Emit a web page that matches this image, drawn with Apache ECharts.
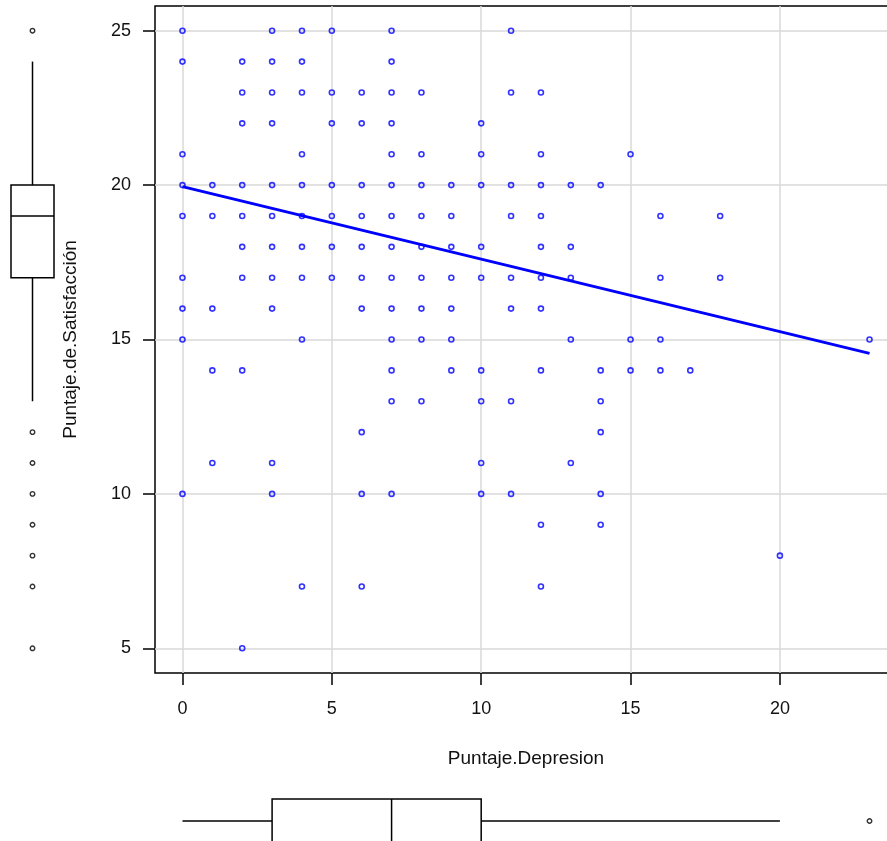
<!DOCTYPE html>
<html>
<head>
<meta charset="utf-8">
<title>Puntaje.de.Satisfacción vs Puntaje.Depresion</title>
<script src="https://cdn.jsdelivr.net/npm/echarts@6/dist/echarts.min.js"></script>
<style>
  html, body { margin: 0; padding: 0; background: #fff; }
  #chart { width: 887px; height: 841px; }
</style>
</head>
<body>
<div id="chart"></div>
<script>
// satisfaction levels and the depression scores seen at each level
const satLevels = [25, 24, 23, 22, 21, 20, 19, 18, 17, 16, 15, 14, 13, 12, 11, 10, 9, 8, 7, 5]
const depByLevel = [
  [0, 3, 4, 5, 7, 11],
  [0, 2, 3, 4, 7],
  [2, 3, 4, 5, 6, 7, 8, 11, 12],
  [2, 3, 5, 6, 7, 10],
  [0, 4, 7, 8, 10, 12, 15],
  [0, 1, 2, 3, 4, 5, 6, 7, 8, 9, 10, 11, 12, 13, 14],
  [0, 1, 2, 3, 4, 5, 6, 7, 8, 9, 11, 12, 16, 18],
  [2, 3, 4, 5, 6, 7, 8, 9, 10, 12, 13],
  [0, 2, 3, 4, 5, 6, 7, 8, 9, 10, 11, 12, 13, 16, 18],
  [0, 1, 3, 6, 7, 8, 9, 11, 12],
  [0, 4, 7, 8, 9, 13, 15, 16, 23],
  [1, 2, 7, 9, 10, 12, 14, 15, 16, 17],
  [7, 8, 10, 11, 14],
  [6, 14],
  [1, 3, 10, 13],
  [0, 3, 6, 7, 10, 11, 14],
  [12, 14],
  [20],
  [4, 6, 12],
  [2]
]

// fitted line
const fitX = [0, 23]
const fitY = [19.95, 14.55]

// marginal boxplots: [min, q1, median, q3, max]
const satBox = [13, 17, 19, 20, 24]
const satOutliers = [25, 12, 11, 10, 9, 8, 7, 5]
const depBox = [0, 3, 7, 10, 20]
const depOutliers = [23]

const xTicks = [0, 5, 10, 15, 20]
const yTicks = [5, 10, 15, 20, 25]

const points = []
satLevels.forEach((s, i) => {
  depByLevel[i].forEach(d => points.push([d, s]))
})

const font = 'Liberation Sans, Arial, sans-serif'
const xRange = { min: -0.92, max: 23.92 }
const yRange = { min: 4.2, max: 25.8 }

const renderBox = (vertical) => (params, api) => {
  const v = [0, 1, 2, 3, 4].map(i => api.value(i))
  const p = v.map(val => vertical ? api.coord([0, val]) : api.coord([val, 0]))
  const half = vertical ? api.size([2, 0])[0] / 2 : api.size([0, 2])[1] / 2
  const style = { stroke: '#000', lineWidth: 1.5, fill: null }
  const line = (x1, y1, x2, y2) => ({ type: 'line', shape: { x1, y1, x2, y2 }, style })
  let children
  if (vertical) {
    const cx = p[0][0]
    children = [
      line(cx, p[0][1], cx, p[1][1]),
      line(cx, p[3][1], cx, p[4][1]),
      { type: 'rect', shape: { x: cx - half, y: p[3][1], width: 2 * half, height: p[1][1] - p[3][1] }, style },
      line(cx - half, p[2][1], cx + half, p[2][1])
    ]
  } else {
    const cy = p[0][1]
    children = [
      line(p[0][0], cy, p[1][0], cy),
      line(p[3][0], cy, p[4][0], cy),
      { type: 'rect', shape: { x: p[1][0], y: cy - half, width: p[3][0] - p[1][0], height: 2 * half }, style },
      line(p[2][0], cy - half, p[2][0], cy + half)
    ]
  }
  return { type: 'group', children }
}

const chart = echarts.init(document.getElementById('chart'))

const option = {
  backgroundColor: '#fff',
  animation: false,
  grid: [
    { left: 155, top: 6, width: 742, height: 667, outerBoundsMode: 'none', containLabel: false, show: true, borderColor: '#000', borderWidth: 1.5, backgroundColor: 'transparent' },
    { left: 11, top: 6, width: 43, height: 667, outerBoundsMode: 'none', containLabel: false },
    { left: 155, top: 799, width: 742, height: 44, outerBoundsMode: 'none', containLabel: false }
  ],
  xAxis: [
    {
      gridIndex: 0,
      type: 'value',
      ...xRange,
      name: 'Puntaje.Depresion',
      nameLocation: 'middle',
      nameGap: 76,
      nameTextStyle: { color: '#111', fontSize: 19, fontFamily: font },
      axisLine: { show: false, onZero: false },
      axisTick: { show: true, customValues: xTicks, length: 12, lineStyle: { color: '#000', width: 1.5 } },
      axisLabel: { customValues: xTicks, color: '#111', fontSize: 18, fontFamily: font, margin: 27 },
      splitLine: { show: true, lineStyle: { color: '#d9d9d9', width: 1.5 } }
    },
    { gridIndex: 1, type: 'value', min: -1, max: 1, show: false },
    { gridIndex: 2, type: 'value', ...xRange, show: false }
  ],
  yAxis: [
    {
      gridIndex: 0,
      type: 'value',
      ...yRange,
      name: 'Puntaje.de.Satisfacción',
      nameLocation: 'middle',
      nameRotate: 90,
      nameGap: 75,
      nameTextStyle: { color: '#111', fontSize: 19, fontFamily: font },
      axisLine: { show: false, onZero: false },
      axisTick: { show: true, customValues: yTicks, length: 12, lineStyle: { color: '#000', width: 1.5 } },
      axisLabel: { customValues: yTicks, color: '#111', fontSize: 18, fontFamily: font, margin: 24 },
      splitLine: { show: true, lineStyle: { color: '#d9d9d9', width: 1.5 } }
    },
    { gridIndex: 1, type: 'value', ...yRange, show: false },
    { gridIndex: 2, type: 'value', min: -1, max: 1, show: false }
  ],
  series: [
    {
      name: 'puntos',
      type: 'scatter',
      xAxisIndex: 0,
      yAxisIndex: 0,
      data: points,
      symbol: 'circle',
      symbolSize: 5,
      itemStyle: { color: 'rgba(0,0,0,0)', borderColor: '#0000ff', borderWidth: 1.6 },
      z: 3
    },
    {
      name: 'ajuste',
      type: 'line',
      xAxisIndex: 0,
      yAxisIndex: 0,
      data: fitX.map((x, i) => [x, fitY[i]]),
      showSymbol: false,
      lineStyle: { color: '#0000ff', width: 3 },
      z: 4
    },
    {
      name: 'caja satisfaccion',
      type: 'custom',
      xAxisIndex: 1,
      yAxisIndex: 1,
      renderItem: renderBox(true),
      data: [satBox]
    },
    {
      name: 'atipicos satisfaccion',
      type: 'scatter',
      xAxisIndex: 1,
      yAxisIndex: 1,
      data: satOutliers.map(v => [0, v]),
      symbol: 'circle',
      symbolSize: 4.5,
      itemStyle: { color: 'rgba(0,0,0,0)', borderColor: '#000', borderWidth: 1.4 }
    },
    {
      name: 'caja depresion',
      type: 'custom',
      xAxisIndex: 2,
      yAxisIndex: 2,
      renderItem: renderBox(false),
      data: [depBox]
    },
    {
      name: 'atipicos depresion',
      type: 'scatter',
      xAxisIndex: 2,
      yAxisIndex: 2,
      data: depOutliers.map(v => [v, 0]),
      symbol: 'circle',
      symbolSize: 4.5,
      itemStyle: { color: 'rgba(0,0,0,0)', borderColor: '#000', borderWidth: 1.4 }
    }
  ]
}

chart.setOption(option)
</script>
</body>
</html>
